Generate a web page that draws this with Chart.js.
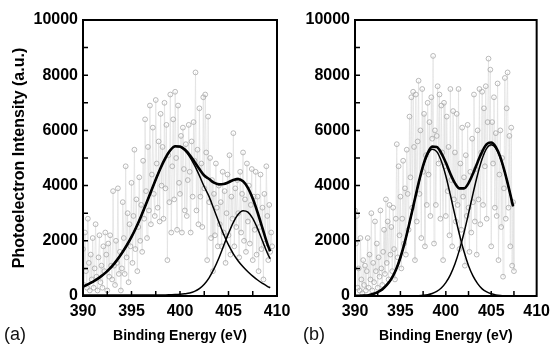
<!DOCTYPE html>
<html>
<head>
<meta charset="utf-8">
<script src="https://cdn.jsdelivr.net/npm/chart.js@4.4.0/dist/chart.umd.min.js"></script>
<style>
  body { margin: 0; background: #fff; width: 556px; height: 345px; position: relative; overflow: hidden; font-family: "Liberation Sans", Arial, sans-serif; }
  canvas { position: absolute; top: 0; }
  #chartA { left: 0; }
  #chartB { left: 280px; }
  .panel { position: absolute; font-size: 18px; line-height: 18px; color: #111; }
</style>
</head>
<body>
<canvas id="chartA" width="300" height="345"></canvas>
<canvas id="chartB" width="276" height="345"></canvas>
<div class="panel" style="left:4px; top:325px">(a)</div>
<div class="panel" style="left:303px; top:325px">(b)</div>
<script>
// 目盛り
const xTickMarks = [392.5, 395, 397.5, 400, 402.5, 405, 407.5];
const yTickMarks = [1000, 2000, 3000, 4000, 5000, 6000, 7000, 8000, 9000];

// (a) 測定点（0.1 eV 刻み、390.0 から）
const countsA = [
  1700, 400, 2300, 900, 300, 2800, 1200, 200, 1500, 600,
  2100, 300, 1000, 2600, 700, 200, 1400, 2200, 500, 1100,
  300, 1800, 900, 2300, 1500, 200, 1900, 700, 2200, 1100,
  600, 3800, 1100, 400, 2000, 1200, 3900, 800, 1600, 200,
  1000, 3400, 2100, 800, 4700, 1400, 3000, 500, 2600, 1800,
  4100, 1200, 2900, 5300, 1700, 3500, 900, 2500, 4300, 2000,
  3300, 1600, 4900, 2800, 6400, 3800, 2100, 5400, 3100, 6900,
  2600, 4400, 6100, 3700, 2900, 7100, 4800, 3200, 5600, 2700,
  6600, 4000, 5400, 2800, 7000, 3900, 6200, 1300, 5100, 3400,
  7300, 2300, 4700, 6400, 3500, 7400, 5000, 2400, 6900, 4100,
  3700, 5800, 2300, 6100, 4600, 3100, 5500, 2900, 4200, 6200,
  4500, 2300, 5600, 3600, 6300, 4900, 8100, 3100, 5300, 2600,
  6800, 3600, 4800, 2500, 7200, 3900, 7300, 5200, 1300, 6500,
  3400, 5000, 2100, 4200, 900, 3700, 2200, 4800, 3200, 1800,
  4000, 2600, 3400, 1800, 4500, 2300, 3800, 1200, 3000, 4400,
  2200, 5100, 1500, 3600, 2800, 5900, 1800, 3900, 2500, 4200,
  3000, 1400, 4500, 2300, 3700, 5200, 2000, 3500, 1600, 4800,
  2700, 4000, 1900, 3300, 4600, 1300, 3600, 2400, 4500, 1500,
  3600, 900, 2500, 4400, 1700, 3200, 600, 3700, 1900, 4700,
  2900, 1300, 3300, 1600, 2300, 1800
];

// (a) フィット曲線
const fitXA = [390, 390.5, 391, 391.5, 392, 392.5, 393, 393.5, 394, 394.5,
  395, 395.5, 396, 396.5, 397, 397.5, 398, 398.5, 399, 399.5,
  400, 400.5, 401, 401.5, 402, 402.5, 403, 403.5, 404, 404.5,
  405, 405.5, 406, 406.5, 407, 407.5, 408, 408.5, 409, 409.3];
const envelopeA = [340, 420, 510, 620, 750, 900, 1080, 1300, 1550, 1830,
  2140, 2500, 2900, 3330, 3780, 4220, 4640, 5000, 5280, 5425,
  5415, 5305, 5110, 4860, 4600, 4365, 4240, 4105, 4045, 4055,
  4120, 4205, 4235, 4155, 3920, 3530, 3025, 2460, 1890, 1620];
const peak1A = [340, 420, 510, 620, 750, 900, 1080, 1300, 1550, 1830,
  2140, 2500, 2900, 3330, 3780, 4220, 4640, 5000, 5280, 5420,
  5400, 5270, 5040, 4730, 4360, 3960, 3600, 3140, 2680, 2240,
  1850, 1530, 1270, 1060, 880, 720, 580, 460, 350, 300];
const peak2A = [40, 40, 40, 40, 40, 40, 40, 40, 40, 40,
  40, 40, 40, 40, 40, 40, 40, 40, 45, 50,
  60, 80, 110, 170, 270, 430, 660, 980, 1370, 1820,
  2270, 2670, 2960, 3090, 3040, 2810, 2440, 2000, 1560, 1350];

// (b) 測定点（0.1 eV 刻み、390.0 から）
const countsB = [
  3100, 1900, 2900, 300, 1000, 200, 2100, 600, 100, 1300,
  400, 1100, 200, 900, 2100, 300, 1500, 600, 3000, 200,
  1200, 500, 2700, 900, 1900, 300, 1400, 700, 3100, 1000,
  400, 1600, 2400, 800, 3500, 1200, 2700, 600, 3300, 1500,
  2500, 900, 3200, 1700, 600, 2800, 5500, 1400, 4700, 2200,
  3600, 1000, 2800, 4900, 1900, 3900, 1500, 5300, 3700, 2400,
  6500, 4300, 7200, 3200, 7400, 5400, 1300, 7300, 2700, 5600,
  7800, 3700, 6000, 2100, 7500, 4500, 6600, 1800, 5100, 3300,
  7000, 4400, 6300, 2900, 7200, 5700, 8700, 1900, 6000, 3300,
  5800, 7600, 4800, 7300, 2800, 6900, 5200, 1300, 7000, 4700,
  2900, 6500, 3800, 5400, 2200, 7500, 4200, 1800, 6700, 3500,
  5200, 2700, 6600, 3300, 7500, 1700, 4800, 2400, 6100, 3600,
  4300, 1100, 5100, 2900, 6200, 3200, 1600, 4500, 2300, 5700,
  3400, 7300, 2700, 4600, 1500, 6000, 3500, 7500, 2600, 5200,
  7400, 3300, 6800, 4700, 7600, 2800, 6300, 8600, 5500, 8200,
  1800, 6300, 4800, 7200, 3200, 5900, 2900, 7700, 1300, 4400,
  6000, 2500, 5000, 700, 3900, 7900, 2800, 6800, 8100, 3200,
  5800, 1800, 6100, 1100, 3400, 900
];

// (b) フィット曲線
const fitXB = [390, 390.5, 391, 391.5, 392, 392.5, 393, 393.5, 394, 394.5,
  395, 395.5, 396, 396.5, 397, 397.5, 398, 398.5, 399, 399.5,
  400, 400.5, 401, 401.5, 402, 402.5, 403, 403.5, 404, 404.5,
  405, 405.5, 406, 406.5, 407, 407.4];
const envelopeB = [3, 6, 14, 29, 70, 140, 240, 400, 620, 940,
  1395, 1971, 2652, 3375, 4091, 4723, 5177, 5411, 5396, 5180,
  4834, 4427, 4090, 3900, 3900, 4090, 4440, 4850, 5230, 5500,
  5560, 5400, 5030, 4480, 3825, 3253];
const peak1B = [3, 6, 14, 29, 70, 140, 240, 400, 620, 940,
  1395, 1970, 2650, 3370, 4080, 4700, 5130, 5320, 5230, 4890,
  4350, 3660, 2930, 2230, 1610, 1100, 720, 450, 260, 150,
  80, 40, 20, 10, 5, 3];
const peak2B = [0, 0, 0, 0, 0, 0, 0, 0, 0, 0,
  0, 1, 2, 5, 11, 23, 47, 91, 166, 290,
  484, 767, 1160, 1670, 2290, 2990, 3720, 4400, 4970, 5350,
  5480, 5360, 5010, 4470, 3820, 3250];

const FONT = '"Liberation Sans", Arial, Helvetica, sans-serif';

function toPoints(xs, ys) {
  return xs.map((x, i) => ({ x: x, y: ys[i] }));
}

function samplePoints(counts) {
  return counts.map((c, i) => ({ x: +(390 + i * 0.1).toFixed(1), y: c }));
}

// 枠と内向きの目盛り
const framePlugin = {
  id: 'frame',
  afterDatasetsDraw(chart) {
    const { ctx, chartArea: a, scales } = chart;
    ctx.save();
    ctx.strokeStyle = '#000';
    ctx.lineWidth = 1.5;
    ctx.beginPath();
    xTickMarks.forEach(v => {
      const px = scales.x.getPixelForValue(v);
      ctx.moveTo(px, a.bottom);
      ctx.lineTo(px, a.bottom - 5);
    });
    yTickMarks.forEach(v => {
      const py = scales.y.getPixelForValue(v);
      ctx.moveTo(a.left, py);
      ctx.lineTo(a.left + 5, py);
    });
    ctx.stroke();
    ctx.lineWidth = 2;
    ctx.strokeRect(a.left, a.top, a.right - a.left, a.bottom - a.top);
    ctx.restore();
  }
};

function makeChart(id, counts, fitX, env, p1, p2, yWidth, rightPad, showYTitle) {
  const curve = (ys, w) => ({
    data: toPoints(fitX, ys),
    borderColor: '#000',
    borderWidth: w,
    pointRadius: 0,
    fill: false,
    cubicInterpolationMode: 'monotone'
  });
  return new Chart(document.getElementById(id), {
    type: 'line',
    data: {
      datasets: [
        curve(env, 2.6),
        curve(p1, 1.5),
        curve(p2, 1.5),
        {
          data: samplePoints(counts),
          borderColor: '#e0e0e0',
          borderWidth: 0.7,
          pointRadius: 2.4,
          pointBorderWidth: 0.8,
          pointBorderColor: '#a8a8a8',
          pointBackgroundColor: 'rgba(255,255,255,0)',
          fill: false,
          tension: 0
        }
      ]
    },
    options: {
      responsive: false,
      animation: false,
      devicePixelRatio: 1,
      layout: { padding: { top: 20, right: rightPad, left: 0, bottom: 0 } },
      plugins: { legend: { display: false }, tooltip: { enabled: false } },
      scales: {
        x: {
          type: 'linear',
          min: 390,
          max: 410,
          border: { display: false },
          grid: { display: false, drawTicks: false },
          ticks: {
            stepSize: 5,
            color: '#000',
            padding: 6,
            maxRotation: 0,
            font: { family: FONT, size: 16, weight: 'bold' },
            callback: v => String(v)
          },
          title: {
            display: true,
            text: 'Binding Energy (eV)',
            color: '#000',
            font: { family: FONT, size: 14, weight: 'bold' },
            padding: { top: 0, bottom: 0 }
          },
          afterFit: s => { s.height = 49; }
        },
        y: {
          min: 0,
          max: 10000,
          border: { display: false },
          grid: { display: false, drawTicks: false },
          ticks: {
            stepSize: 2000,
            color: '#000',
            padding: 5,
            font: { family: FONT, size: 16, weight: 'bold' },
            callback: v => String(v)
          },
          title: {
            display: showYTitle,
            text: 'Photoelectron Intensity (a.u.)',
            color: '#000',
            font: { family: FONT, size: 16, weight: 'bold' },
            padding: { top: 10, bottom: 0 }
          },
          afterFit: s => { s.width = yWidth; }
        }
      }
    },
    plugins: [framePlugin]
  });
}

makeChart('chartA', countsA, fitXA, envelopeA, peak1A, peak2A, 83, 23, true);
makeChart('chartB', countsB, fitXB, envelopeB, peak1B, peak2B, 75, 13, false);
</script>
</body>
</html>
